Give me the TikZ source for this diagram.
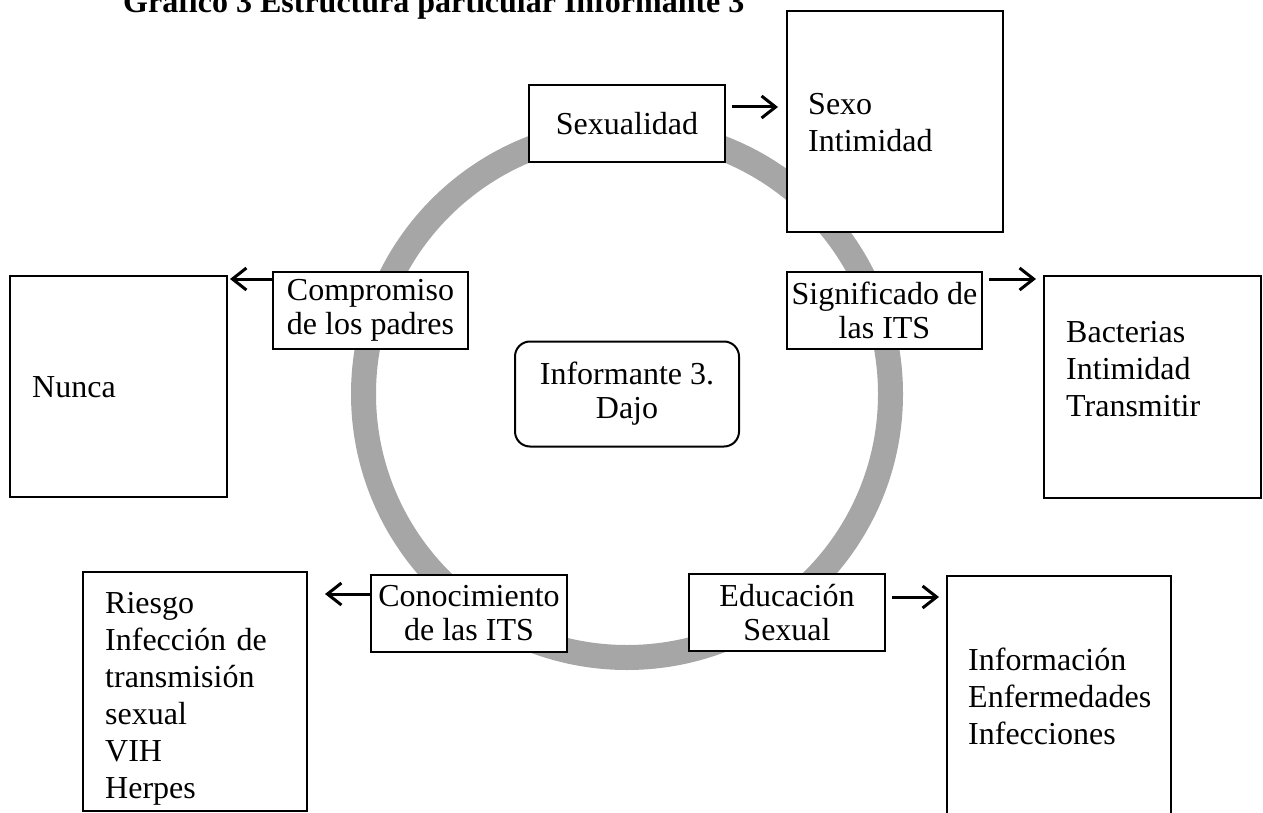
\documentclass[tikz,border=0pt]{standalone}
\usepackage{fontspec}
\setmainfont{Liberation Serif}
\usetikzlibrary{arrows.meta}
\definecolor{ringgray}{RGB}{166,166,166}
\begin{document}
\begin{tikzpicture}[x=1pt,y=-1pt,
  box/.style={draw, line width=2pt, fill=white, inner sep=0pt, outer sep=0pt, anchor=north west},
  small/.style={box, minimum width=196pt, minimum height=77pt, align=center, font={\fontsize{32}{34}\selectfont}},
  txt/.style={anchor=base west, inner sep=0pt, align=left, text width=220pt, font={\fontsize{32}{37}\selectfont}},
  arr/.style={line width=3pt, -{Straight Barb[length=14pt,width=22pt]}},
  ring/.style={draw=ringgray, line width=25pt}]
\useasboundingbox (0,0) rectangle (1263,813);
\clip (0,0) rectangle (1263,813);
% title
\node[anchor=base west, inner sep=0pt, font={\fontsize{32}{37}\selectfont\bfseries}] (title) at (123,13) {Gráfico 3 Estructura particular Informante 3};
% ring
\coordinate (hub) at (627,394);
\draw[ring] (hub) circle[radius=263.5];
% outer boxes
\node[box, minimum width=216pt, minimum height=221pt] (sexo) at (787,11) {};
\node[box, minimum width=217pt, minimum height=221pt] (nunca) at (10,276) {};
\node[box, minimum width=217pt, minimum height=222pt] (bacterias) at (1044,276) {};
\node[box, minimum width=224pt, minimum height=239pt] (riesgo) at (83,572) {};
\node[box, minimum width=224pt, minimum height=300pt] (info) at (947,576) {};
% texts in outer boxes
\node[txt] (sexoT) at (808,115) {Sexo\\Intimidad};
\node[txt] (nuncaT) at (32,397) {Nunca};
\node[txt] (bactT) at (1066,342) {Bacterias\\Intimidad\\Transmitir};
\node[txt] (riesgoT) at (105,613) {Riesgo\\Infección de\\transmisión\\sexual\\VIH\\Herpes};
\node[txt] (infoT) at (968,670) {Información\\Enfermedades\\Infecciones};
% category boxes
\node[small] (sexualidad) at (529,85) {Sexualidad};
\node[small, minimum width=195pt] (compromiso) at (273,272) {Compromiso\\de los padres};
\node[small, minimum width=195pt] (significado) at (787,272) {Significado de\\las ITS};
\node[small] (conocimiento) at (371,575) {Conocimiento\\de las ITS};
\node[small] (educacion) at (689,574) {Educación\\Sexual};
% centre
\node[small, anchor=center, minimum width=224pt, minimum height=105pt, rounded corners=15pt] (informante) at (hub) {Informante 3.\\Dajo};
% arrow levels
\coordinate (y1) at (0,107);
\coordinate (y2) at (0,279);
\coordinate (y4) at (0,594);
\coordinate (y5) at (0,597);
% arrows
\draw[arr, shorten <=7pt, shorten >=9pt] (sexualidad.east |- y1) -- (sexo.west |- y1);
\draw[arr, shorten >=3pt] (compromiso.west |- y2) -- (nunca.east |- y2);
\draw[arr, shorten <=7pt, shorten >=8pt] (significado.east |- y2) -- (bacterias.west |- y2);
\draw[arr, shorten >=18pt] (conocimiento.west |- y4) -- (riesgo.east |- y4);
\draw[arr, shorten <=7pt, shorten >=8pt] (educacion.east |- y5) -- (info.west |- y5);
\end{tikzpicture}
\end{document}
